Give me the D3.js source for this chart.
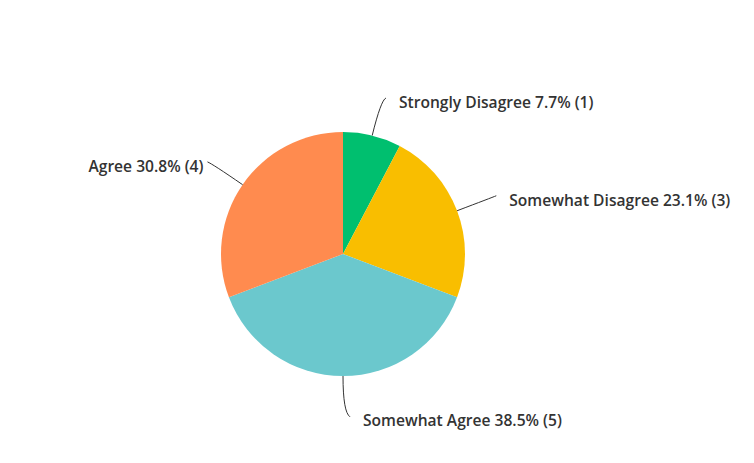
<!DOCTYPE html>
<html><head><meta charset="utf-8">
<script src="https://cdn.jsdelivr.net/npm/d3@7"></script>
<style>body{margin:0;background:#fff}svg{display:block}text{font-family:"Open Sans",sans-serif;font-weight:600;font-size:15.6px;fill:#333}</style>
</head><body>
<svg id="c" width="754" height="463"></svg>
<script>
const categories = ["Strongly Disagree", "Somewhat Disagree", "Somewhat Agree", "Agree"];
const counts = [1, 3, 5, 4];
const colors = ["#00BF6F", "#F9BE00", "#6BC8CD", "#FF8B4F"];

const W = 754, H = 463, cx = 343, cy = 254, R = 122;
const total = d3.sum(counts);
const data = categories.map((c, i) => ({name: c, value: counts[i], color: colors[i]}));
const svg = d3.select("#c");
const g = svg.append("g").attr("transform", `translate(${cx},${cy})`);
const pie = d3.pie().value(d => d.value).sort(null);
const arc = d3.arc().innerRadius(0).outerRadius(R);
const arcs = pie(data);
g.selectAll("path.slice").data(arcs).join("path").attr("class", "slice")
  .attr("d", arc).attr("fill", d => d.data.color);

arcs.forEach(a => {
  const m = (a.startAngle + a.endAngle) / 2;
  const sx = Math.sin(m), sy = -Math.cos(m);
  const p0 = [R * sx, R * sy];
  const bottom = Math.abs(sx) < 0.05;
  let p1, p2;
  if (bottom) {
    p1 = [0, R * sy * 1.28 + 2];
    p2 = [7, R * sy * 1.31 + 3];
  } else {
    const r1 = R * 1.3;
    p1 = [r1 * sx, r1 * sy];
    p2 = [p1[0] + (sx > 0 ? 5 : -5), p1[1] - 2];
  }
  g.append("path")
    .attr("d", `M${p0[0]},${p0[1]} Q${p1[0]},${p1[1]} ${p2[0]},${p2[1]}`)
    .attr("fill", "none").attr("stroke", "#333").attr("stroke-width", 1);
  const pct = (a.data.value / total * 100).toFixed(1);
  const left = sx < -0.05;
  g.append("text")
    .attr("x", left ? p2[0] - 4 : p2[0] + 13)
    .attr("y", bottom ? p2[1] + 4 : p2[1] + 5)
    .attr("text-anchor", left ? "end" : "start")
    .attr("dy", "0.35em")
    .text(`${a.data.name} ${pct}% (${a.data.value})`);
});
</script>
</body></html>
